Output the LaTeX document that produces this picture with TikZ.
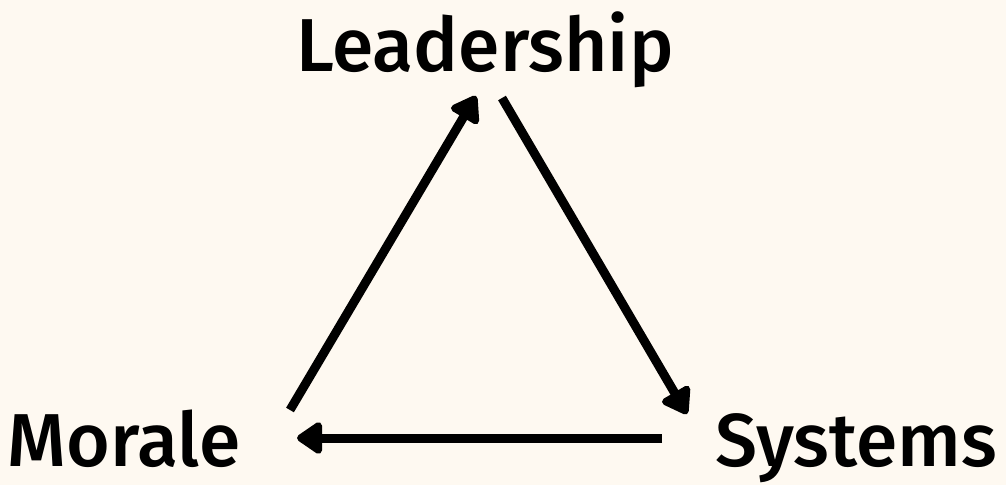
\documentclass[tikz,border=0pt]{standalone}
\usepackage{fontspec}
\setmainfont{Fira Sans}[BoldFont={Fira Sans Medium}]
\usetikzlibrary{arrows.meta}
\definecolor{paper}{HTML}{FEF9F1}
\begin{document}
\begin{tikzpicture}[x=1pt,y=-1pt,
  label/.style={font=\bfseries\fontsize{75}{75}\selectfont, inner sep=0pt, anchor=base},
  link/.style={line width=9pt, -{Triangle[round,length=28pt,width=36pt]}}]
  % cream page
  \fill[paper] (0,0) rectangle (1006,485);
  \useasboundingbox (0,0) rectangle (1006,485);
  % the three labels
  \node[label] (lead) at (485,71) {Leadership};
  \node[label] (mor) at (124,466) {Morale};
  \node[label] (sys) at (856,466) {Systems};
  % arrow end points between the labels
  \coordinate (a1) at (290,410);
  \coordinate (a2) at (476,96);
  \coordinate (b1) at (502,98);
  \coordinate (b2) at (687,414);
  \coordinate (c1) at (662,438);
  \coordinate (c2) at (297,438);
  % clockwise cycle: Leadership -> Systems -> Morale -> Leadership
  \draw[link] (a1) -- (a2);
  \draw[link] (b1) -- (b2);
  \draw[link] (c1) -- (c2);
\end{tikzpicture}
\end{document}
